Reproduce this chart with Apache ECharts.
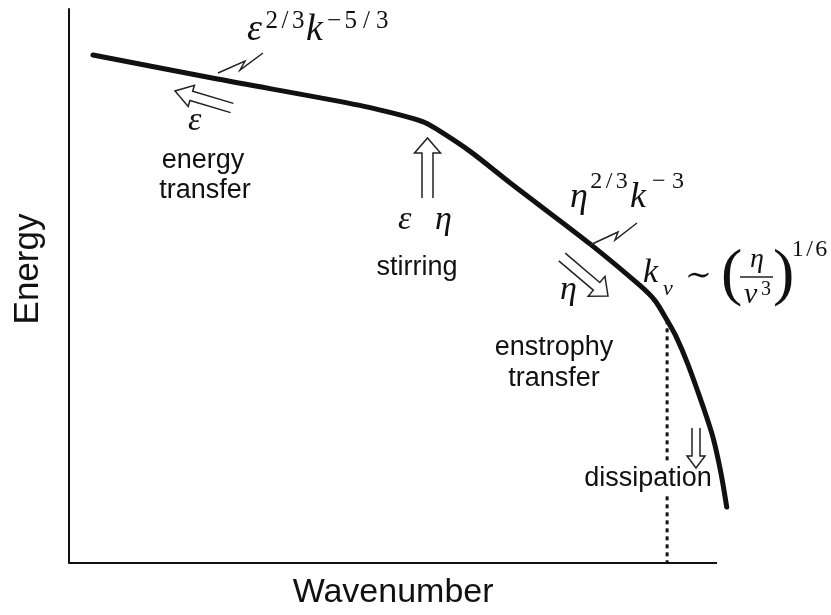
<!DOCTYPE html>
<html>
<head>
<meta charset="utf-8">
<script src="https://cdn.jsdelivr.net/npm/echarts@6/dist/echarts.min.js"></script>
<style>html,body{margin:0;padding:0;background:#fff;}#c{width:831px;height:615px;}</style>
</head>
<body>
<div id="c"></div>
<script>
// ---- data (schematic units: wavenumber 0..10, energy 0..10) ----
const wavenumber = [0.37, 2.27, 4.49, 5.26, 5.49, 5.73, 6.19, 6.81, 7.27, 8.04, 8.81, 9.04, 9.23, 9.38, 9.55, 9.78, 9.94, 10.06, 10.15];
const energy     = [9.17, 8.74, 8.26, 8.04, 7.95, 7.79, 7.43, 6.86, 6.45, 5.76, 5.01, 4.74, 4.38, 4.06, 3.59, 2.84, 2.26, 1.63, 1.01];
const kNu = 9.23;          // dissipation wavenumber
const kNuEnergy = 4.38;    // spectrum level at kNu
const axisEnd = 10;        // drawn end of the wavenumber axis line
const axisNames = { x: 'Wavenumber', y: 'Energy' };

const spectrum = wavenumber.map((k, i) => [k, energy[i]]);
const dissLine = [[kNu, kNuEnergy], [kNu, 0]];

// ---- annotation helpers ----
const SANS = "'Liberation Sans', Arial, Helvetica, sans-serif";
const SERIF = "'Liberation Serif', 'Times New Roman', 'DejaVu Serif', serif";
function txt(x, base, s, size, o) {
  o = o || {};
  const style = {
    text: s,
    fontSize: size,
    fontFamily: o.family || SANS,
    fontStyle: o.italic ? 'italic' : 'normal',
    fill: '#111',
    align: o.align || 'left',
    verticalAlign: 'middle'
  };
  if (o.bg) { style.backgroundColor = '#fff'; style.padding = [2, 2]; }
  return { type: 'text', x: x, y: base - 0.34 * size, z: 100, style: style };
}
function mathI(x, base, s, size) { return txt(x, base, s, size, { family: SERIF, italic: true }); }
function mathR(x, base, s, size) { return txt(x, base, s, size, { family: SERIF }); }
function spaced(x, base, chars, size, step) {
  return chars.split('').map((c, i) => txt(x + (i + 0.5) * step, base, c, size, { family: SERIF, align: 'center' }));
}
function hollowArrow(tail, tip, s, h, L) {
  const dx = tip[0] - tail[0], dy = tip[1] - tail[1];
  const len = Math.sqrt(dx * dx + dy * dy);
  const ux = dx / len, uy = dy / len, px = -uy, py = ux;
  const bx = tip[0] - ux * L, by = tip[1] - uy * L;
  const pts = [
    [tail[0] + px * s, tail[1] + py * s],
    [bx + px * s, by + py * s],
    [bx + px * h, by + py * h],
    [tip[0], tip[1]],
    [bx - px * h, by - py * h],
    [bx - px * s, by - py * s],
    [tail[0] - px * s, tail[1] - py * s]
  ];
  return { type: 'polyline', z: 101, shape: { points: pts }, style: { stroke: '#222', lineWidth: 1.5, fill: null } };
}
function zig(points) {
  return { type: 'polyline', z: 101, shape: { points: points }, style: { stroke: '#222', lineWidth: 1.5, fill: null } };
}

const graphics = [].concat(
  // epsilon^{2/3} k^{-5/3}
  [mathI(247, 43, 'ε', 38)],
  spaced(265, 30, '2/3', 25, 13.3),
  [mathI(306, 43, 'k', 38), mathR(327, 30, '−', 25)],
  spaced(343, 30, '5/3', 25, 15.7),
  [zig([[218, 73], [245, 61], [240, 70], [263, 53]])],
  // energy transfer
  [hollowArrow([232, 108], [175, 91], 4.8, 11, 17)],
  [mathI(188, 133, 'ε', 34)],
  [txt(203, 170, 'energy', 27, { align: 'center' }), txt(205, 200, 'transfer', 27, { align: 'center' })],
  // stirring
  [hollowArrow([427.5, 198], [427.5, 138], 5.5, 13, 15)],
  [mathI(398, 232, 'ε', 34), mathI(435, 232, 'η', 34)],
  [txt(417, 277, 'stirring', 27, { align: 'center' })],
  // eta^{2/3} k^{-3}
  [mathI(570, 210, 'η', 36)],
  spaced(590, 190, '2/3', 24, 12.7),
  [mathI(630, 210, 'k', 36), mathR(652, 190, '−', 24), mathR(672, 190, '3', 24)],
  [zig([[590, 245], [618, 232], [615, 240], [637, 223]])],
  // enstrophy transfer
  [hollowArrow([562, 257], [608, 296], 5, 13, 15)],
  [mathI(560, 302, 'η', 34)],
  [txt(554, 357, 'enstrophy', 27, { align: 'center' }), txt(554, 388, 'transfer', 27, { align: 'center' })],
  // k_nu ~ (eta / nu^3)^{1/6}
  [mathI(643, 285, 'k', 34), mathI(663, 297, 'ν', 22), mathR(685, 287, '∼', 32)],
  [mathR(721, 298, '(', 64), mathI(750, 269, 'η', 28)],
  [{ type: 'line', z: 101, shape: { x1: 740, y1: 277, x2: 773, y2: 277 }, style: { stroke: '#222', lineWidth: 1.5 } }],
  [mathI(744, 305, 'ν', 30), mathR(761, 297, '3', 20), mathR(773, 298, ')', 64)],
  spaced(792, 258, '1/6', 24, 11.7),
  // dissipation
  [txt(648, 488, 'dissipation', 27, { align: 'center', bg: true })],
  [hollowArrow([696, 428], [696, 468], 4, 9, 12)]
);

const chart = echarts.init(document.getElementById('c'), null, { renderer: 'canvas' });
chart.setOption({
  animation: false,
  backgroundColor: '#fff',
  grid: { left: 69, right: 97.8, top: 9, bottom: 49, containLabel: false },
  xAxis: {
    type: 'value', min: 0, max: 10.25,
    name: axisNames.x, nameLocation: 'middle', nameGap: 13,
    nameTextStyle: { fontSize: 34, fontFamily: SANS, color: '#111', padding: [0, 16, 0, 0] },
    axisLine: { show: false },
    axisTick: { show: false }, axisLabel: { show: false }, splitLine: { show: false }
  },
  yAxis: {
    type: 'value', min: 0, max: 10,
    name: axisNames.y, nameLocation: 'middle', nameGap: 23, nameRotate: 90,
    nameTextStyle: { fontSize: 35, fontFamily: SANS, color: '#111', padding: [0, 0, 0, 34] },
    axisLine: { show: true, lineStyle: { color: '#111', width: 2 } },
    axisTick: { show: false }, axisLabel: { show: false }, splitLine: { show: false }
  },
  series: [
    {
      type: 'line', data: spectrum, smooth: 0.3, symbol: 'none',
      lineStyle: { color: '#111', width: 5, cap: 'round', join: 'round' }, z: 3
    },
    {
      type: 'line', data: dissLine, symbol: 'none',
      lineStyle: { color: '#111', width: 3, type: [4, 4] }, z: 2,
      markLine: {
        silent: true, symbol: ['none', 'none'], label: { show: false },
        lineStyle: { color: '#111', width: 2, type: 'solid' },
        data: [[{ coord: [0, 0] }, { coord: [axisEnd, 0] }]]
      }
    }
  ],
  graphic: graphics
});
</script>
</body>
</html>
